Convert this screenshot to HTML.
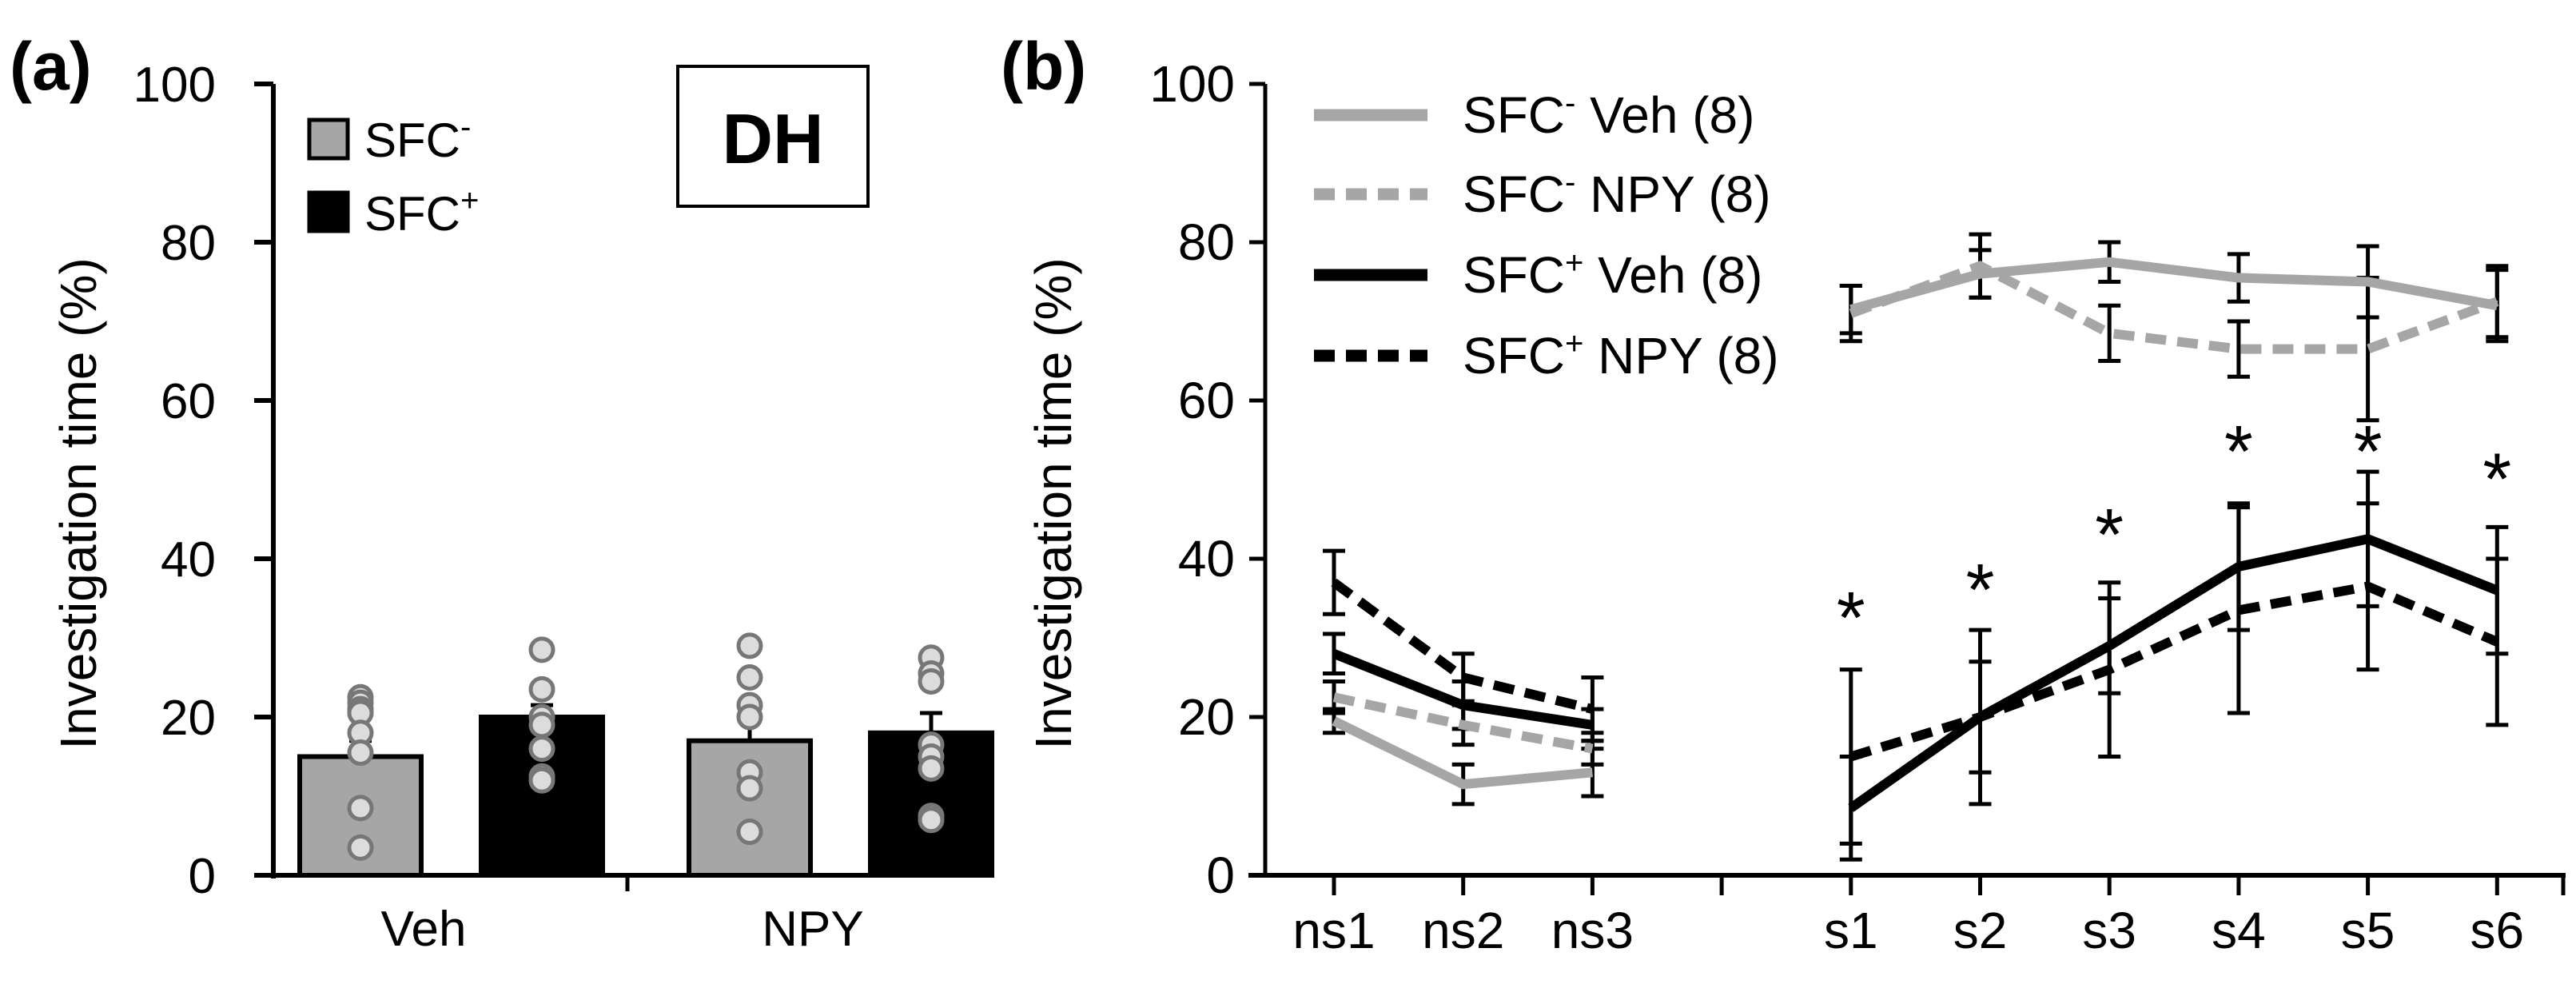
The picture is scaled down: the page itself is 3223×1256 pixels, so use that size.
<!DOCTYPE html>
<html><head><meta charset="utf-8"><style>
html,body{margin:0;padding:0;background:#fff;}
svg{display:block;}
text{font-family:"Liberation Sans",sans-serif;}
.nb{font-family:"Liberation Sans Narrow","Liberation Sans",sans-serif;}
</style></head><body>
<svg id="fig" width="3223" height="1256" viewBox="0 0 3223 1256" xmlns="http://www.w3.org/2000/svg">
<g id="pa"></g>
<g id="pb"></g>
</svg>
<script>
// ---- Panel A data ----
const aGroups = ["Veh","NPY"];
const aMeansNeg = [15, 17];
const aMeansPos = [20, 18];
const aErrNeg = [2, 3];
const aErrPos = [1.5, 2.5];
const aDotsNeg = [[22.5,21.8,21,20.5,18,15.5,8.5,3.5],[29,25,21.5,20,13,11,5.5]];
const aDotsPos = [[28.5,23.5,20,19,16,12.5,12],[27.5,25.5,24.5,16.5,15,13.5,7.5,7]];
const yTicks = [0,20,40,60,80,100];
// ---- Panel B data ----
const bCats = ["ns1","ns2","ns3","","s1","s2","s3","s4","s5","s6"];
const gVeh = [19.5,11.5,13,null,71.5,76,77.5,75.5,75,72];
const gVehErr = [1.5,2.5,3,null,3,3,2.5,3,4.5,4.5];
const gNpy = [22.5,19,16,null,71,77,68.5,66.5,66.5,72.5];
const gNpyErr = [2,2.5,2,null,3.5,4,3.5,3.5,9,4.5];
const bVeh = [28,21.5,19,null,8.5,20,29,39,42.5,36];
const bVehErr = [2.5,3,2,null,6.5,7,6,8,8.5,8];
const bNpy = [37,25,21,null,15,20,26,33.5,36.5,29.5];
const bNpyErr = [4,3,4,null,11,11,11,13,10.5,10.5];
const starVals = [null,null,null,null,33,36.5,43.5,54,54,50.5];

const NS="http://www.w3.org/2000/svg";
function mk(parent,tag,attrs,txt){const e=document.createElementNS(NS,tag);for(const k in attrs)e.setAttribute(k,attrs[k]);if(txt!==undefined)e.textContent=txt;parent.appendChild(e);return e;}
const y0=1095,y100=105;
function yS(v){return y0-(y0-y100)*v/100;}

// ===== Panel A =====
const pa=document.getElementById('pa');
const axA=342;
let t=mk(pa,'text',{x:12,y:112,'font-size':84,'font-weight':'bold'},'(a)');


let l=mk(pa,'line',{x1:axA,y1:y100,x2:axA,y2:y0+4,stroke:'#000','stroke-width':6});


l=mk(pa,'line',{x1:318,y1:y0,x2:1233,y2:y0,stroke:'#000','stroke-width':6});


l=mk(pa,'line',{x1:785,y1:y0,x2:785,y2:y0+20,stroke:'#000','stroke-width':5});


yTicks.forEach(v=>{
  let tk=mk(pa,'line',{x1:318,y1:yS(v),x2:axA,y2:yS(v),stroke:'#000','stroke-width':6});
  
  
  let tl=mk(pa,'text',{x:270,y:yS(v)+22,'font-size':62,'text-anchor':'end'},String(v));
  
  
});
t=mk(pa,'text',{x:0,y:0,'font-size':64,'text-anchor':'middle',transform:'translate(120,630) rotate(-90)'},'Investigation time (%)');


const barW=152;
const grpC=[530,1017];
aGroups.forEach((g,i)=>{
  const sets=[[aMeansNeg[i],aErrNeg[i],aDotsNeg[i],'#a6a6a6',grpC[i]-79-barW/2+0],[aMeansPos[i],aErrPos[i],aDotsPos[i],'#000',grpC[i]+148-barW/2]];
  sets.forEach((s,j)=>{
    const [m,e,dots,col,x]=s;
    const cx=x+barW/2;
    let er=mk(pa,'line',{x1:cx,y1:yS(m),x2:cx,y2:yS(m+e),stroke:'#000','stroke-width':5});
    
    
    er=mk(pa,'line',{x1:cx-14,y1:yS(m+e),x2:cx+14,y2:yS(m+e),stroke:'#000','stroke-width':5});
    
    
    let r=mk(pa,'rect',{x:x,y:yS(m),width:barW,height:y0-yS(m),fill:col,stroke:'#000','stroke-width':6});
    
    
    dots.forEach(d=>{
      let c=mk(pa,'circle',{cx:cx,cy:yS(d),r:14,fill:'#dcdcdc',stroke:'#777','stroke-width':5});
      
      
    });
  });
  let gl=mk(pa,'text',{x:grpC[i],y:1183,'font-size':62,'text-anchor':'middle'},g);
  
  
});
// legend A
let lr=mk(pa,'rect',{x:387,y:150,width:48,height:48,fill:'#a6a6a6',stroke:'#000','stroke-width':5});


lr=mk(pa,'rect',{x:387,y:241,width:48,height:48,fill:'#000',stroke:'#000','stroke-width':5});


t=mk(pa,'text',{x:456,y:196,'font-size':60});t.innerHTML='SFC<tspan dy="-24" font-size="40">-</tspan>';


t=mk(pa,'text',{x:456,y:288,'font-size':60});t.innerHTML='SFC<tspan dy="-24" font-size="40">+</tspan>';


let bx=mk(pa,'rect',{x:848,y:83,width:238,height:175,fill:'#fff',stroke:'#000','stroke-width':4});


t=mk(pa,'text',{x:967,y:204,'font-size':88,'font-weight':'bold','text-anchor':'middle'},'DH');



// ===== Panel B =====
const pb=document.getElementById('pb');
const axB=1583, x0B=1669, dxB=161.7;
function xS(i){return x0B+i*dxB;}
t=mk(pb,'text',{x:1252,y:112,'font-size':84,'font-weight':'bold'},'(b)');


l=mk(pb,'line',{x1:axB,y1:y100,x2:axB,y2:y0,stroke:'#000','stroke-width':5});


l=mk(pb,'line',{x1:1562,y1:y0,x2:3210,y2:y0,stroke:'#000','stroke-width':6});


yTicks.forEach(v=>{
  let tk=mk(pb,'line',{x1:1563,y1:yS(v),x2:axB,y2:yS(v),stroke:'#000','stroke-width':5});
  
  
  let tl=mk(pb,'text',{x:1545,y:yS(v)+22,'font-size':64,'text-anchor':'end','class':'nb'},String(v));
  
  
});
t=mk(pb,'text',{x:0,y:0,'font-size':64,'text-anchor':'middle',transform:'translate(1340,630) rotate(-90)'},'Investigation time (%)');


bCats.forEach((c,i)=>{
  let tk=mk(pb,'line',{x1:xS(i),y1:y0,x2:xS(i),y2:y0+25,stroke:'#000','stroke-width':5});
  
  
  if(c){let tl=mk(pb,'text',{x:xS(i),y:1186,'font-size':64,'text-anchor':'middle','class':'nb'},c);
  
  }
});
l=mk(pb,'line',{x1:3207,y1:y0,x2:3207,y2:y0+25,stroke:'#000','stroke-width':5});


const series=[
 {name:'sfc-neg-veh',vals:gVeh,err:gVehErr,col:'#a6a6a6',dash:''},
 {name:'sfc-neg-npy',vals:gNpy,err:gNpyErr,col:'#a6a6a6',dash:'26,14'},
 {name:'sfc-pos-veh',vals:bVeh,err:bVehErr,col:'#000',dash:''},
 {name:'sfc-pos-npy',vals:bNpy,err:bNpyErr,col:'#000',dash:'26,14'}];
function pathFor(vals,a,b){let d='';for(let i=a;i<=b;i++){if(vals[i]==null)continue;d+=(d?'L':'M')+xS(i)+','+yS(vals[i]);}return d;}
series.forEach(s=>{
  s.vals.forEach((v,i)=>{
    if(v==null)return;
    const e=s.err[i];
    let g=mk(pb,'path',{d:`M${xS(i)},${yS(v-e)}V${yS(v+e)}M${xS(i)-14},${yS(v-e)}h28M${xS(i)-14},${yS(v+e)}h28`,stroke:'#000','stroke-width':5,fill:'none'});
    
    
  });
});
series.forEach(s=>{
  [[0,2],[4,9]].forEach(r=>{
    let p=mk(pb,'path',{d:pathFor(s.vals,r[0],r[1]),stroke:s.col,'stroke-width':12,fill:'none','stroke-dasharray':s.dash||'none'});
    
    
  });
});
starVals.forEach((v,i)=>{
  if(v==null)return;
  let st=mk(pb,'text',{x:xS(i),y:yS(v)+36,'font-size':92,'text-anchor':'middle'},'*');
  
  
});
// legend B
const legY=[144,243,344,445];
const legLbl=[['-',' Veh (8)'],['-',' NPY (8)'],['+',' Veh (8)'],['+',' NPY (8)']];
series.forEach((s,i)=>{
  let ll=mk(pb,'line',{x1:1644,y1:legY[i],x2:1786,y2:legY[i],stroke:s.col,'stroke-width':15,'stroke-dasharray':s.dash||'none'});
  
  
  let tx=mk(pb,'text',{x:1830,y:legY[i]+22,'font-size':64,'class':'nb'});
  tx.innerHTML='SFC<tspan dy="-24" font-size="40">'+legLbl[i][0]+'</tspan><tspan dy="24">'+legLbl[i][1]+'</tspan>';
  
  
});
</script>
</body></html>
